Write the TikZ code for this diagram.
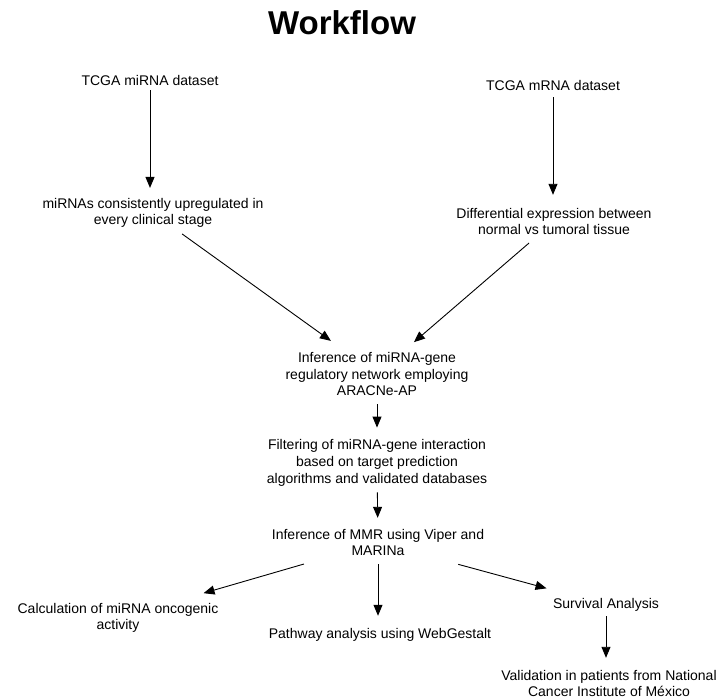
\documentclass[tikz,border=0pt]{standalone}
\usepackage{fontspec}
\setmainfont{Liberation Sans}
\usepackage{tikz}
\usetikzlibrary{arrows.meta, positioning}

\begin{document}
\begin{tikzpicture}[x=1pt, y=-1pt, >={Triangle[length=11pt, width=9pt]}, every node/.style={inner sep=0pt, align=center, font=\fontsize{14pt}{16.7pt}\selectfont}]
      \useasboundingbox (0,0) rectangle (720,699);
      \node[font=\bfseries\fontsize{33pt}{38pt}\selectfont] (title) at (342,23) {Workflow};
      \node (mirna) at (150,80) {TCGA miRNA dataset};
      \node (mrna) at (553,85) {TCGA mRNA dataset};
      \node (upreg) at (153,213) {miRNAs consistently upregulated in\\every clinical stage};
      \node (diffexp) at (554,221.5) {Differential expression between\\normal vs tumoral tissue};
      \node (aracne) at (377,374) {Inference of miRNA-gene\\regulatory network employing\\ARACNe-AP};
      \node (filter) at (377,463) {Filtering of miRNA-gene interaction\\based on target prediction\\algorithms and validated databases};
      \node (mmr) at (378,542.5) {Inference of MMR using Viper and\\MARINa};
      \node (oncog) at (118,618) {Calculation of miRNA oncogenic\\activity};
      \node (pathway) at (380,634.5) {Pathway analysis using WebGestalt};
      \node (survival) at (606,604.5) {Survival Analysis};
      \node (valid) at (609,683.5) {Validation in patients from National\\Cancer Institute of México};
      \draw[->, line width=0.9pt, shorten <=5pt, shorten >=10pt] (mirna) -- (mirna |- upreg.north);
      \draw[->, line width=0.9pt, shorten <=7pt, shorten >=13pt] (mrna) -- (mrna |- diffexp.north);
      \draw[->, line width=0.9pt, shorten <=10pt, shorten >=19pt] (upreg) -- (aracne);
      \draw[->, line width=0.9pt, shorten <=12pt, shorten >=15pt] (diffexp) -- (aracne);
      \draw[->, line width=0.9pt, shorten <=8pt, shorten >=12pt] (aracne) -- (filter);
      \draw[->, line width=0.9pt, shorten <=6pt, shorten >=11pt] (filter) -- (mmr);
      \draw[->, line width=0.9pt, shorten <=28pt, shorten >=35pt] (mmr) -- (oncog);
      \draw[->, line width=0.9pt, shorten <=8pt, shorten >=12pt] (mmr) -- (mmr |- pathway.north);
      \draw[->, line width=0.9pt, shorten <=31pt, shorten >=36pt] (mmr) -- (survival); % outcome branch
      \draw[->, line width=0.9pt, shorten <=5pt, shorten >=12pt] (survival) -- (survival |- valid.north);
    \end{tikzpicture}
\end{document}
